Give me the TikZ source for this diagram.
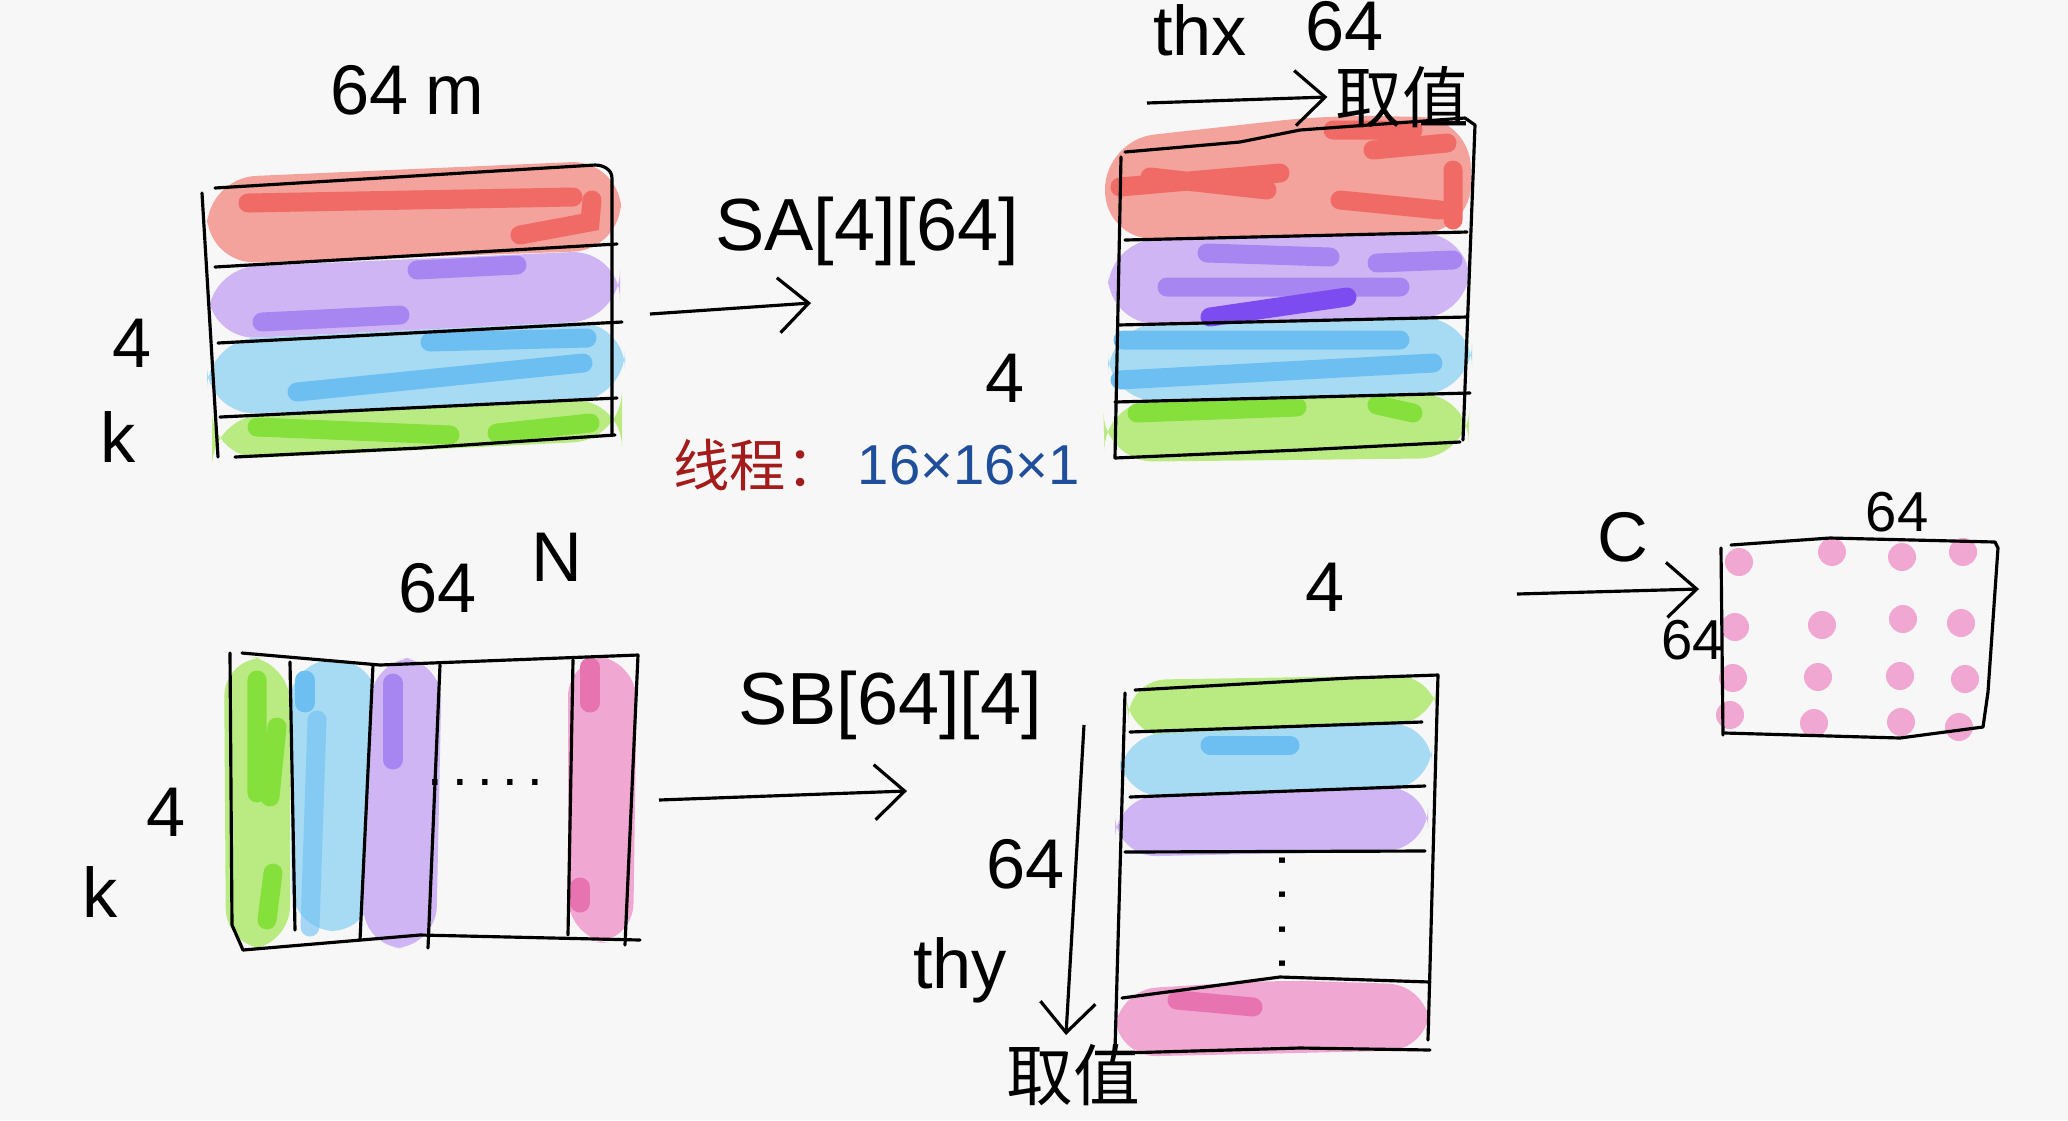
\documentclass[tikz,border=0pt]{standalone}
\usepackage{fontspec}
\setmainfont{Liberation Sans}
\newfontfamily\cjk{Noto Sans CJK SC}
\usepackage{xcolor}
\usetikzlibrary{arrows.meta,positioning}
\definecolor{bg}{HTML}{F7F7F7}
\definecolor{redL}{HTML}{F4A29C}
\definecolor{redD}{HTML}{F06A66}
\definecolor{purL}{HTML}{CFB5F3}
\definecolor{purD}{HTML}{A886F2}
\definecolor{purDD}{HTML}{7C4CF0}
\definecolor{bluL}{HTML}{A7DBF3}
\definecolor{bluD}{HTML}{6DBFF2}
\definecolor{grnL}{HTML}{B9EB82}
\definecolor{grnD}{HTML}{86E03C}
\definecolor{pnkL}{HTML}{F0A7D1}
\definecolor{pnkD}{HTML}{E873B1}
\definecolor{redText}{HTML}{A31B1B}
\definecolor{blueText}{HTML}{1F4E9A}

\begin{document}
\begin{tikzpicture}[
    x=0.01cm, y=-0.01cm,
    outline/.style={draw=black, line width=0.9pt, line cap=round, line join=round},
    arrow/.style={-{Straight Barb[length=3mm,width=5.5mm]}, line width=0.9pt},
    hl/.style={line width=0.19cm, line cap=round},
    lbl/.style={font=\fontsize{20}{24}\selectfont, inner sep=0pt},
    arr/.style={font=\fontsize{21}{25}\selectfont, inner sep=0pt},
    small/.style={font=\fontsize{16}{20}\selectfont, inner sep=0pt},
    zh/.style={font=\cjk\fontsize{19}{23}\selectfont, inner sep=0pt},
    dot/.style={circle, fill=pnkL, inner sep=0pt, minimum size=0.28cm}
]

\fill[bg] (0,0) rectangle (2068,1120);
\useasboundingbox (0,0) rectangle (2068,1120);

% matrix A (k x m)
\fill[redL, rounded corners=14] (207,178) -- (620,160) -- (622,250) -- (207,264) -- cycle;
\fill[purL, rounded corners=14] (208,268) -- (620,250) -- (620,320) -- (208,340) -- cycle;
\fill[bluL, rounded corners=14] (207,340) -- (625,320) -- (625,400) -- (207,415) -- cycle;
\fill[grnL, rounded corners=14] (212,417) -- (622,398) -- (622,440) -- (212,460) -- cycle;
\draw[hl, redD] (248,203) -- (573,197) (520,235) -- (590,222) -- (592,200);
\draw[hl, purD] (417,270) -- (517,265) (262,322) -- (400,315);
\draw[hl, bluD] (297,392) -- (583,363) (430,342) -- (587,338);
\draw[hl, grnD] (257,427) -- (450,435) (497,433) -- (590,423);
\draw[outline] (202,193) -- (218,457);
\draw[outline] (215,188) -- (595,165) to[out=0,in=90] (612,178) -- (612,435);
\draw[outline] (235,457) -- (420,448) -- (615,435);
\draw[outline] (215,267) -- (617,244);
\draw[outline] (218,343) -- (622,322);
\draw[outline] (220,417) -- (617,398);

% matrix SA
\fill[redL, rounded corners=14] (1105,140) -- (1330,115) -- (1470,118) -- (1472,232) -- (1105,240) -- cycle;
\fill[purL, rounded corners=14] (1108,240) -- (1470,232) -- (1470,317) -- (1108,325) -- cycle;
\fill[bluL, rounded corners=14] (1108,325) -- (1472,317) -- (1472,393) -- (1108,402) -- cycle;
\fill[grnL, rounded corners=14] (1103,402) -- (1470,393) -- (1468,458) -- (1105,462) -- cycle;
\draw[hl, redD] (1120,187) -- (1280,173) (1150,177) -- (1267,190) (1373,150) -- (1447,143)
    (1453,170) -- (1453,220) (1333,130) -- (1413,130) (1340,200) -- (1440,210);
\draw[hl, purD] (1207,253) -- (1330,257) (1167,287) -- (1400,287) (1377,263) -- (1453,260);
\draw[hl, purDD] (1210,317) -- (1347,297);
\draw[hl, bluD] (1123,340) -- (1400,340) (1120,380) -- (1433,363);
\draw[hl, grnD] (1137,413) -- (1297,407) (1377,405) -- (1413,413);
\draw[outline] (1121,157) -- (1115,458);
\draw[outline] (1125,152) -- (1240,142) -- (1300,130) -- (1465,118) -- (1475,125) -- (1463,440);
\draw[outline] (1115,458) -- (1300,450) -- (1460,442);
\draw[outline] (1125,240) -- (1467,232);
\draw[outline] (1118,325) -- (1467,317);
\draw[outline] (1115,402) -- (1470,393);

% matrix B (k x n)
\fill[grnL, rounded corners=12] (224,655) -- (290,660) -- (290,948) -- (226,950) -- cycle;
\fill[bluL, rounded corners=12] (290,660) -- (378,660) -- (372,932) -- (292,930) -- cycle;
\fill[purL, rounded corners=12] (372,658) -- (442,658) -- (436,948) -- (362,948) -- cycle;
\fill[pnkL, rounded corners=12] (568,655) -- (637,658) -- (633,945) -- (568,940) -- cycle;
\draw[hl, grnD] (257,680) -- (257,793) (277,727) -- (270,797) (273,873) -- (267,920);
\draw[hl, bluD] (305,680) -- (305,703);
\draw[hl, bluD, opacity=0.6] (317,720) -- (310,927);
\draw[hl, purD] (393,683) -- (393,760);
\draw[hl, pnkD] (590,667) -- (590,703) (580,887) -- (580,903);
\draw[outline] (230,653) -- (232,925) -- (243,950);
\draw[outline] (242,653) -- (380,665) -- (638,655) -- (625,945);
\draw[outline] (243,950) -- (420,935) -- (640,940);
\draw[outline] (290,662) -- (295,930);
\draw[outline] (373,665) -- (360,940);
\draw[outline] (440,665) -- (428,948);
\draw[outline] (573,660) -- (568,935);
\node[small] (bdots) at (485,782) {.\,.\,.\,.\,.};

% matrix SB
\fill[grnL, rounded corners=12] (1125,680) -- (1438,675) -- (1438,722) -- (1130,740) -- cycle;
\fill[bluL, rounded corners=12] (1120,735) -- (1432,722) -- (1432,788) -- (1120,797) -- cycle;
\fill[purL, rounded corners=12] (1115,797) -- (1428,786) -- (1428,850) -- (1115,857) -- cycle;
\fill[pnkL, rounded corners=12] (1115,990) -- (1280,980) -- (1430,985) -- (1430,1050) -- (1115,1057) -- cycle;
\draw[hl, bluD] (1210,745) -- (1290,745);
\draw[hl, pnkD] (1177,1000) -- (1253,1007);
\draw[outline] (1125,693) -- (1115,1050);
\draw[outline] (1135,690) -- (1350,678) -- (1438,675) -- (1428,1040);
\draw[outline] (1122,1053) -- (1300,1048) -- (1430,1050);
\draw[outline] (1130,732) -- (1422,722);
\draw[outline] (1130,797) -- (1425,786);
\draw[outline] (1125,852) -- (1425,851);
\draw[outline] (1122,998) -- (1280,977) -- (1430,982);
\node[small, rotate=90] (sbdots) at (1282,912) {.\,\,.\,\,.\,\,.};

% matrix C
\foreach \x/\y in {1739/562, 1832/552, 1902/557, 1963/552,
                   1735/627, 1822/625, 1903/619, 1961/623,
                   1733/678, 1818/677, 1900/676, 1965/679,
                   1730/715, 1814/723, 1901/722, 1959/727}
    \node[dot] at (\x,\y) {};
\draw[outline] (1721,548) -- (1723,735);
\draw[outline] (1731,545) -- (1830,538) -- (1995,542) -- (1998,548) -- (1988,692) -- (1983,727);
\draw[outline] (1725,733) -- (1900,738) -- (1983,727);

% labels
\node[lbl] (am) at (370,90) {64};
\node[lbl] (amm) at (455,96) {m};
\node[lbl] (ak) at (132,343) {4};
\node[lbl] (akk) at (118,437) {k};

\node[lbl] (bn) at (438,588) {64};
\node[lbl] (bnn) at (557,557) {N};
\node[lbl] (bk) at (166,812) {4};
\node[lbl] (bkk) at (100,892) {k};

\node[arr] (sa) at (867,231) {SA[4][64]};
\node[arr] (sb) at (890,705) {SB[64][4]};

\node[lbl] (thx) at (1200,30) {thx};
\node[lbl] (thxn) at (1345,26) {64};
\node[zh] (takeA) at (1402,97) {取值};
\node[lbl] (sak) at (1005,378) {4};

\node[zh, text=redText, anchor=west, font=\cjk\fontsize{16}{20}\selectfont] (thr) at (673,465) {线程：};
\node[small, text=blueText, anchor=west, right=4pt of thr] (thrn) {16×16×1};

\node[lbl] (sbk) at (1325,587) {4};
\node[lbl] (thyn) at (1026,864) {64};
\node[lbl] (thy) at (960,970) {thy};
\node[zh] (takeB) at (1073,1075) {取值};

\node[lbl] (cc) at (1623,537) {C};
\node[small] (cn) at (1897,512) {64};
\node[small] (cm) at (1693,640) {64};

% arrows
\coordinate (saS) at (650,314);
\coordinate (saE) at (811,303);
\coordinate (thxS) at (1147,103);
\coordinate (sbS) at (659,800);
\coordinate (sbE) at (907,791);
\coordinate (thyS) at (1084,725);
\coordinate (thyE) at (1066,1035);
\coordinate (cS) at (1517,594);
\coordinate (cE) at (1699,589);

\draw[arrow] (saS) -- (saE);
\draw[arrow] (thxS) -- ([xshift=-2pt]takeA.west);
\draw[arrow] (sbS) -- (sbE);
\draw[arrow] (thyS) -- (thyE);
\draw[arrow] (cS) -- (cE);

\end{tikzpicture}
\end{document}
